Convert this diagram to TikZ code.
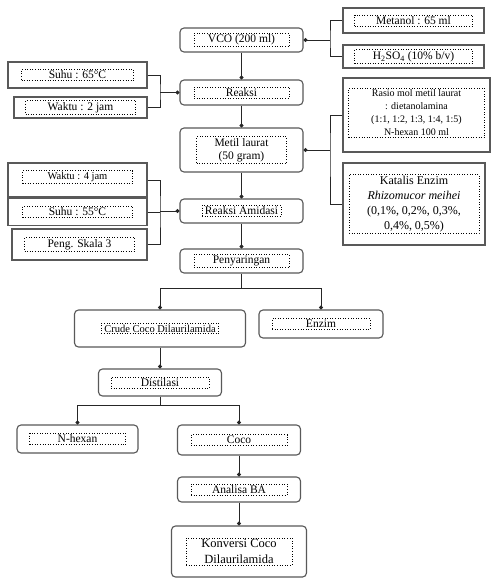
\documentclass[tikz,border=0pt]{standalone}
\usepackage{fontspec}
\setmainfont{Liberation Serif}
\usetikzlibrary{arrows.meta}
\begin{document}
\begin{tikzpicture}[x=1pt,y=1pt,
  mainbox/.style={draw=black!65, line width=1.1pt, rounded corners=4pt, fill=white, inner sep=0pt},
  sidebox/.style={draw=black!65, line width=1.1pt, fill=white, inner sep=0pt},
  txt/.style={draw=black, dotted, line width=0.6pt, inner xsep=3pt, inner ysep=1.5pt, align=center, font=\fontsize{11.5}{13}\selectfont},
  con/.style={line width=0.9pt, black!85},
  dotend/.style={con, -{Circle[length=4pt]}},
  dotstart/.style={con, {Circle[length=4pt]}-}
]
\useasboundingbox (0,0) rectangle (491,-579);
\fill[white] (0,0) rectangle (491,-579);

% main column
\node[mainbox, minimum width=123, minimum height=24] (vco) at (241.5,-40) {};
\node[txt, minimum width=95] (vcot) at (vco) {VCO (200 ml)};
\node[mainbox, minimum width=123, minimum height=25] (reaksi) at (241.5,-92.5) {};
\node[txt, minimum width=95] (reaksit) at (reaksi) {Reaksi};
\node[mainbox, minimum width=123, minimum height=44] (metil) at (241.5,-150) {};
\node[txt, minimum width=90] (metilt) at (metil) {Metil laurat\\(50 gram)};
\node[mainbox, minimum width=123, minimum height=24] (amidasi) at (241.5,-211) {};
\node[txt] (amidasit) at (amidasi) {Reaksi Amidasi};
\node[mainbox, minimum width=123, minimum height=24] (saring) at (241.5,-261) {};
\node[txt, minimum width=95] (saringt) at (saring) {Penyaringan};

% right side boxes
\node[sidebox, minimum width=141, minimum height=25] (metanol) at (413.5,-20.5) {};
\node[txt, minimum width=118] (metanolt) at (metanol) {Metanol : 65 ml};
\node[sidebox, minimum width=141, minimum height=23] (asam) at (413.5,-56.5) {};
\node[txt, minimum width=118] (asamt) at (asam) {H\textsubscript{2}SO\textsubscript{4} (10\% b/v)};
\node[sidebox, minimum width=147, minimum height=74] (rasio) at (416.5,-115) {};
\node[txt, minimum width=136, font=\fontsize{10}{13}\selectfont] (rasiot) at (416.5,-113) {Rasio mol metil laurat\\: dietanolamina\\(1:1, 1:2, 1:3, 1:4, 1:5)\\N-hexan 100 ml};
\node[sidebox, minimum width=142, minimum height=82] (katalis) at (414,-204) {};
\node[txt, minimum width=130, font=\fontsize{12}{15}\selectfont] (katalist) at (katalis) {Katalis Enzim\\\textit{Rhizomucor meihei}\\(0,1\%, 0,2\%, 0,3\%,\\0,4\%, 0,5\%)};

% left side boxes
\node[sidebox, minimum width=139, minimum height=26] (suhua) at (77.5,-75) {};
\node[txt, minimum width=112] (suhuat) at (suhua) {Suhu : 65°C};
\node[sidebox, minimum width=133, minimum height=21] (waktua) at (80.5,-107.5) {};
\node[txt, minimum width=110] (waktuat) at (waktua) {Waktu : 2 jam};
\node[sidebox, minimum width=139, minimum height=34] (waktub) at (77.5,-180) {};
\node[txt, minimum width=110, font=\fontsize{10.5}{12}\selectfont] (waktubt) at (77.5,-177) {Waktu : 4 jam};
\node[sidebox, minimum width=139, minimum height=27] (suhub) at (77.5,-212) {};
\node[txt, minimum width=110] (suhubt) at (suhub) {Suhu : 55°C};
\node[sidebox, minimum width=135, minimum height=31] (peng) at (79.5,-244.5) {};
\node[txt, minimum width=110] (pengt) at (peng) {Peng. Skala 3};

% lower part
\node[mainbox, minimum width=171, minimum height=37] (crude) at (160,-328.5) {};
\node[txt, font=\fontsize{10.5}{12}\selectfont] (crudet) at (crude) {Crude Coco Dilaurilamida};
\node[mainbox, minimum width=124, minimum height=28] (enzim) at (321,-324) {};
\node[txt, minimum width=98] (enzimt) at (enzim) {Enzim};
\node[mainbox, minimum width=123, minimum height=27] (distilasi) at (160,-382.5) {};
\node[txt, minimum width=98] (distilasit) at (distilasi) {Distilasi};
\node[mainbox, minimum width=121, minimum height=28] (nhexan) at (77.5,-439) {};
\node[txt, minimum width=96] (nhexant) at (nhexan) {N-hexan};
\node[mainbox, minimum width=123, minimum height=30] (coco) at (239,-440) {};
\node[txt, minimum width=96] (cocot) at (coco) {Coco};
\node[mainbox, minimum width=123, minimum height=25] (analisa) at (239,-489.5) {};
\node[txt, minimum width=96] (analisat) at (analisa) {Analisa BA};
\node[mainbox, minimum width=135, minimum height=51] (konversi) at (239,-551.5) {};
\node[txt, minimum width=106, font=\fontsize{12.5}{16}\selectfont] (konversit) at (konversi) {Konversi Coco\\Dilaurilamida};

% junctions
\coordinate (j1) at (330,-40);
\coordinate (j2) at (160,-92.5);
\coordinate (j3) at (330,-150);
\coordinate (j4) at (160,-211);
\coordinate (j5) at (241.5,-288);
\coordinate (j6) at (160,-405);

% connectors
\draw[dotend] (vco) -- (reaksi);
\draw[dotstart] (vco.east) -- (j1);
\draw[con] (metanol.west) -| (j1) |- (asam.west);
\draw[con] (suhua.east) -| (j2) |- (waktua.east);
\draw[dotend] (j2) -- (reaksi.west);
\draw[dotend] (reaksi) -- (metil);
\draw[dotstart] (metil.east) -- (j3);
\draw[con] (rasio.west) -| (j3) |- (katalis.west);
\draw[dotend] (metil) -- (amidasi);
\draw[con] (waktub.east) -| (j4) |- (peng.east);
\draw[con] (suhub.east) -- (suhub.east -| j4);
\draw[dotend] (j4) -- (amidasi.west);
\draw[dotend] (amidasi) -- (saring);
\draw[con] (saring) -- (j5);
\draw[dotend] (j5) -| (crude.north);
\draw[dotend] (j5) -| (enzim.north);
\draw[dotend] (crude) -- (distilasi);
\draw[con] (distilasi) -- (j6);
\draw[dotend] (j6) -| (nhexan.north);
\draw[dotend] (j6) -| (coco.north);
\draw[dotend] (coco) -- (analisa);
\draw[dotend] (analisa) -- (konversi);
\end{tikzpicture}
\end{document}
